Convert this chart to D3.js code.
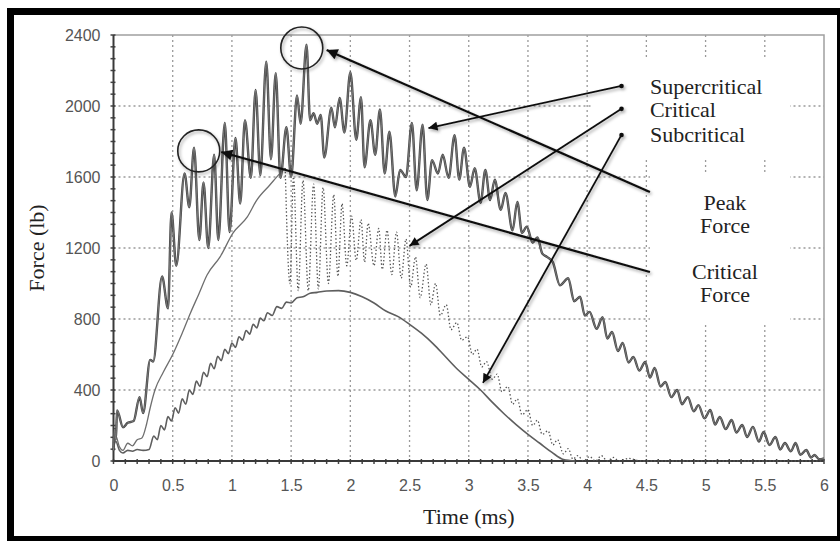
<!DOCTYPE html>
<html>
<head>
<meta charset="utf-8">
<script src="https://cdn.jsdelivr.net/npm/d3@7"></script>
<style>
  body { margin: 0; background: #fff; }
  svg { display: block; }
</style>
</head>
<body>
<svg id="chart" width="840" height="541"></svg>
<script>

// ---- data: [time (ms), force (lb)] ----

const supercritical = [
  [0.00, 60], [0.01, 180], [0.02, 120], [0.03, 285], [0.08, 190], [0.12, 215],
  [0.17, 225], [0.22, 360], [0.25, 270], [0.31, 570], [0.335, 560], [0.41, 1040],
  [0.46, 860], [0.49, 1400], [0.53, 1100], [0.60, 1620], [0.64, 1430], [0.68, 1765],
  [0.725, 1245], [0.76, 1570], [0.80, 1200], [0.85, 1725], [0.885, 1245], [0.94, 1905],
  [0.98, 1290], [1.03, 1820], [1.07, 1450], [1.11, 1920], [1.16, 1595], [1.20, 2090],
  [1.24, 1610], [1.29, 2250], [1.33, 1700], [1.37, 2185], [1.41, 1595], [1.46, 1880],
  [1.50, 1600], [1.55, 2060], [1.58, 1900], [1.63, 2345], [1.66, 1920], [1.69, 1960],
  [1.72, 1900], [1.75, 1950], [1.78, 1710], [1.84, 1990], [1.87, 1880], [1.91, 2045],
  [1.95, 1850], [2.00, 2190], [2.05, 1810], [2.09, 2050], [2.12, 1655], [2.17, 1920],
  [2.21, 1725], [2.25, 1980], [2.29, 1620], [2.33, 1855], [2.38, 1490], [2.42, 1640],
  [2.47, 1600], [2.52, 1905], [2.56, 1525], [2.61, 1895], [2.65, 1470], [2.69, 1695],
  [2.74, 1620], [2.78, 1725], [2.83, 1595], [2.88, 1835], [2.92, 1585], [2.96, 1765],
  [3.01, 1545], [3.05, 1650], [3.10, 1455], [3.14, 1640], [3.18, 1470], [3.22, 1585],
  [3.27, 1415], [3.31, 1510], [3.37, 1300], [3.41, 1460], [3.45, 1285], [3.49, 1320],
  [3.54, 1230], [3.58, 1260], [3.62, 1170], [3.66, 1150], [3.71, 1120], [3.77, 990],
  [3.84, 1030], [3.89, 900], [3.94, 925], [3.98, 820], [4.02, 840], [4.08, 745],
  [4.13, 810], [4.17, 690], [4.21, 727], [4.26, 620], [4.30, 665], [4.35, 555],
  [4.39, 586], [4.44, 510], [4.49, 558], [4.53, 470], [4.57, 524], [4.62, 420],
  [4.66, 445], [4.71, 360], [4.76, 400], [4.80, 320], [4.85, 360], [4.90, 280],
  [4.94, 315], [4.99, 240], [5.04, 287], [5.08, 205], [5.12, 248], [5.17, 180],
  [5.22, 231], [5.26, 160], [5.31, 203], [5.35, 135], [5.40, 192], [5.45, 110],
  [5.49, 163], [5.54, 90], [5.59, 135], [5.63, 65], [5.67, 101], [5.72, 55],
  [5.76, 101], [5.80, 35], [5.85, 62], [5.89, 20], [5.92, 34], [5.96, 10], [6.00, 15]
];

// critical: smooth rise, then the rapidly oscillating (dotted) part
const criticalRise = [
  [0.00, 100], [0.02, 140], [0.05, 80], [0.08, 60], [0.12, 100], [0.16, 85],
  [0.20, 120], [0.24, 130], [0.28, 210], [0.31, 300], [0.35, 400], [0.42, 500],
  [0.50, 600], [0.58, 720], [0.65, 834], [0.72, 940], [0.79, 1048], [0.90, 1150],
  [1.01, 1285], [1.13, 1375], [1.21, 1470], [1.32, 1555], [1.41, 1623], [1.45, 1650]
];

const criticalRing = [
  [1.45, 1650], [1.49, 1000], [1.52, 1600], [1.56, 960], [1.60, 1580], [1.645, 960],
  [1.69, 1560], [1.73, 970], [1.77, 1540], [1.815, 1000], [1.86, 1500], [1.895, 1040],
  [1.93, 1450], [1.97, 1100], [2.01, 1380], [2.05, 1130], [2.09, 1360], [2.12, 1120],
  [2.15, 1340], [2.20, 1100], [2.24, 1310], [2.27, 1080], [2.31, 1300], [2.35, 1050],
  [2.39, 1290], [2.43, 1030], [2.47, 1250], [2.51, 980], [2.55, 1150], [2.59, 920],
  [2.64, 1110], [2.68, 880], [2.72, 1000], [2.76, 820], [2.81, 880], [2.85, 740],
  [2.90, 780], [2.94, 680], [2.99, 700], [3.03, 600], [3.07, 630], [3.11, 530],
  [3.15, 560], [3.20, 460], [3.24, 490], [3.28, 390], [3.33, 420], [3.37, 320],
  [3.41, 350], [3.45, 260], [3.50, 290], [3.54, 200], [3.58, 230], [3.62, 150],
  [3.67, 170], [3.71, 90], [3.75, 120], [3.80, 40], [3.84, 70], [3.88, 10],
  [3.92, 30], [3.97, 0], [4.02, 25], [4.07, 0], [4.12, 30], [4.17, 0],
  [4.22, 20], [4.27, 0], [4.35, 15], [4.45, 0], [6.00, 0]
];

const subcritical = [
  [0.00, 80], [0.02, 110], [0.05, 60], [0.08, 45], [0.12, 60], [0.16, 55],
  [0.20, 65], [0.25, 60], [0.30, 65], [0.34, 140], [0.37, 120], [0.40, 200],
  [0.43, 175], [0.46, 250], [0.49, 225], [0.52, 300], [0.55, 270], [0.58, 350],
  [0.61, 320], [0.64, 400], [0.67, 375], [0.70, 450], [0.73, 420], [0.76, 500],
  [0.79, 475], [0.82, 550], [0.85, 520], [0.88, 590], [0.91, 565], [0.94, 630],
  [0.97, 605], [1.00, 665], [1.03, 640], [1.06, 700], [1.09, 680], [1.12, 735],
  [1.15, 715], [1.18, 770], [1.21, 750], [1.24, 805], [1.27, 790], [1.30, 835],
  [1.34, 820], [1.38, 870], [1.42, 860], [1.46, 895], [1.50, 890], [1.55, 920],
  [1.60, 925], [1.66, 945], [1.72, 950], [1.80, 958], [1.90, 960], [2.00, 950],
  [2.10, 925], [2.20, 890], [2.30, 845], [2.40, 815], [2.50, 770], [2.60, 720],
  [2.70, 660], [2.80, 590], [2.90, 520], [3.00, 460], [3.10, 400], [3.20, 330],
  [3.30, 265], [3.40, 205], [3.50, 150], [3.60, 100], [3.70, 50], [3.80, 8], [3.90, 0]
];

const xTicks = [0, 0.5, 1, 1.5, 2, 2.5, 3, 3.5, 4, 4.5, 5, 5.5, 6];
const yTicks = [0, 400, 800, 1200, 1600, 2000, 2400];

// annotations, in data units
const circles = [[1.59, 2327], [0.72, 1747]];
const bigArrows = [              // label side -> circled peak
  [[4.53, 1516], [1.80, 2316]],
  [[4.53, 1065], [0.91, 1741]]
];
const seriesArrows = [           // legend dot -> curve
  [[4.29, 2113], [2.66, 1876]],
  [[4.29, 1984], [2.50, 1212]],
  [[4.29, 1837], [3.12, 440]]
];
const legendNames = ["Supercritical", "Critical", "Subcritical"];
const legendPos = [[4.53, 2068], [4.53, 1939], [4.53, 1798]];
const noteLines = [["Peak", 5.164, 1414], ["Force", 5.164, 1285], ["Critical", 5.164, 1026], ["Force", 5.164, 896]];

// ---- chart ----

const svg = d3.select("#chart");
const serif = "'Liberation Serif', 'DejaVu Serif', serif";
const sans = "'Liberation Sans', Arial, sans-serif";

const x = d3.scaleLinear().domain([0, 6]).range([113.5, 824]);
const y = d3.scaleLinear().domain([0, 2400]).range([461, 35]);

// grid
const grid = svg.append("g").attr("stroke", "#9a9a9a").attr("stroke-width", 1.3).attr("stroke-dasharray", "2 3");
grid.selectAll(".gx")
  .data(xTicks.filter(d => d > 0 && d < 6))
  .join("line")
    .attr("class", "gx")
    .attr("x1", d => x(d)).attr("x2", d => x(d))
    .attr("y1", y(2400)).attr("y2", y(0));
grid.selectAll(".gy")
  .data(yTicks.filter(d => d > 0 && d < 2400))
  .join("line")
    .attr("class", "gy")
    .attr("x1", x(0)).attr("x2", x(6))
    .attr("y1", d => y(d)).attr("y2", d => y(d));

// white boxes behind the labels
svg.append("rect").attr("x", 593).attr("y", 60).attr("width", 197).attr("height", 100).attr("fill", "#fff");
svg.append("rect").attr("x", 650).attr("y", 172).attr("width", 140).attr("height", 153).attr("fill", "#fff");

// plot border (top and right, light)
svg.append("path")
  .attr("d", `M${x(0)},${y(2400)}H${x(6)}V${y(0)}`)
  .attr("fill", "none").attr("stroke", "#a0a0a0").attr("stroke-width", 1.5);

// minor ticks
const minorX = d3.range(0, 61).map(i => i / 10);
const minorY = d3.range(0, 37).map(i => i * 400 / 6);
svg.append("g").selectAll("line").data(minorX).join("line")
  .attr("x1", d => x(d)).attr("x2", d => x(d))
  .attr("y1", y(0) - 2).attr("y2", y(0) + 3)
  .attr("stroke", "#444").attr("stroke-width", 1.5);
svg.append("g").selectAll("line").data(minorY).join("line")
  .attr("x1", x(0) - 3).attr("x2", x(0) + 2)
  .attr("y1", d => y(d)).attr("y2", d => y(d))
  .attr("stroke", "#444").attr("stroke-width", 1.5);

// tick labels through d3 axes
const xAxis = svg.append("g")
  .attr("transform", `translate(0,${y(0)})`)
  .call(d3.axisBottom(x).tickValues(xTicks).tickSize(0).tickPadding(19).tickFormat(d3.format("~g")));
const yAxis = svg.append("g")
  .attr("transform", `translate(${x(0)},0)`)
  .call(d3.axisLeft(y).tickValues(yTicks).tickSize(0).tickPadding(13).tickFormat(d3.format("d")));
[xAxis, yAxis].forEach(a => {
  a.select(".domain").remove();
  a.selectAll("text").attr("fill", "#555").style("font-family", sans).style("font-size", "16px");
});

// main axis lines
svg.append("path")
  .attr("d", `M${x(0)},${y(2400)}V${y(0)}H${x(6)}`)
  .attr("fill", "none").attr("stroke", "#3a3a3a").attr("stroke-width", 2);

// series
const line = d3.line().x(d => x(d[0])).y(d => y(d[1])).curve(d3.curveMonotoneX);

svg.append("path").datum(subcritical).attr("d", line)
  .attr("fill", "none").attr("stroke", "#5e5e5e").attr("stroke-width", 1.6);
svg.append("path").datum(criticalRise).attr("d", line)
  .attr("fill", "none").attr("stroke", "#6e6e6e").attr("stroke-width", 1.3);
svg.append("path").datum(criticalRing).attr("d", line)
  .attr("fill", "none").attr("stroke", "#555").attr("stroke-width", 1.3)
  .attr("stroke-dasharray", "1.4 2.2");
svg.append("path").datum(supercritical).attr("d", line)
  .attr("fill", "none").attr("stroke", "#474747").attr("stroke-width", 2.4);
svg.append("path").datum(supercritical).attr("d", line)
  .attr("fill", "none").attr("stroke", "#8c8c8c").attr("stroke-width", 0.7);

// annotations
const defs = svg.append("defs");
defs.append("filter").attr("id", "shadow").attr("x", "-20%").attr("y", "-20%").attr("width", "140%").attr("height", "140%")
  .append("feDropShadow").attr("dx", 1.5).attr("dy", 2).attr("stdDeviation", 1.5)
  .attr("flood-color", "#000").attr("flood-opacity", 0.35);
defs.append("marker")
  .attr("id", "head").attr("viewBox", "0 0 10 10").attr("refX", 10).attr("refY", 5)
  .attr("markerWidth", 6).attr("markerHeight", 5).attr("orient", "auto")
  .attr("markerUnits", "strokeWidth")
  .append("path").attr("d", "M0,0L10,5L0,10Z").attr("fill", "#111");

const notes = svg.append("g").attr("filter", "url(#shadow)");

notes.selectAll(".ring").data(circles).join("circle")
  .attr("class", "ring")
  .attr("cx", d => x(d[0])).attr("cy", d => y(d[1])).attr("r", 21)
  .attr("fill", "none").attr("stroke", "#222").attr("stroke-width", 1.6);

notes.selectAll(".big").data(bigArrows).join("line")
  .attr("class", "big")
  .attr("x1", d => x(d[0][0])).attr("y1", d => y(d[0][1]))
  .attr("x2", d => x(d[1][0])).attr("y2", d => y(d[1][1]))
  .attr("stroke", "#111").attr("stroke-width", 2.2).attr("marker-end", "url(#head)");

notes.selectAll(".small").data(seriesArrows).join("line")
  .attr("class", "small")
  .attr("x1", d => x(d[0][0])).attr("y1", d => y(d[0][1]))
  .attr("x2", d => x(d[1][0])).attr("y2", d => y(d[1][1]))
  .attr("stroke", "#111").attr("stroke-width", 1.8).attr("marker-end", "url(#head)");

notes.selectAll(".dot").data(seriesArrows).join("circle")
  .attr("class", "dot")
  .attr("cx", d => x(d[0][0])).attr("cy", d => y(d[0][1])).attr("r", 2.3)
  .attr("fill", "#111");

// labels
svg.append("g").selectAll("text").data(legendNames).join("text")
  .attr("x", (d, i) => x(legendPos[i][0])).attr("y", (d, i) => y(legendPos[i][1]))
  .attr("fill", "#222").style("font-family", serif).style("font-size", "22px")
  .text(d => d);

svg.append("g").selectAll("text").data(noteLines).join("text")
  .attr("x", d => x(d[1])).attr("y", d => y(d[2]))
  .attr("text-anchor", "middle")
  .attr("fill", "#222").style("font-family", serif).style("font-size", "22px")
  .text(d => d[0]);

svg.append("text")
  .attr("x", x(3)).attr("y", 524)
  .attr("text-anchor", "middle")
  .attr("fill", "#222").style("font-family", serif).style("font-size", "22px")
  .text("Time (ms)");

svg.append("text")
  .attr("transform", `translate(44,${y(1200)}) rotate(-90)`)
  .attr("text-anchor", "middle")
  .attr("fill", "#222").style("font-family", serif).style("font-size", "22px")
  .text("Force (lb)");

// black frame
const frame = svg.append("g").attr("fill", "#000");
frame.append("rect").attr("x", 7).attr("y", 8).attr("width", 833).attr("height", 7);
frame.append("rect").attr("x", 7).attr("y", 8).attr("width", 7).attr("height", 533);
frame.append("rect").attr("x", 7).attr("y", 536).attr("width", 833).attr("height", 5);
frame.append("rect").attr("x", 837).attr("y", 8).attr("width", 3).attr("height", 533);

</script>
</body>
</html>
